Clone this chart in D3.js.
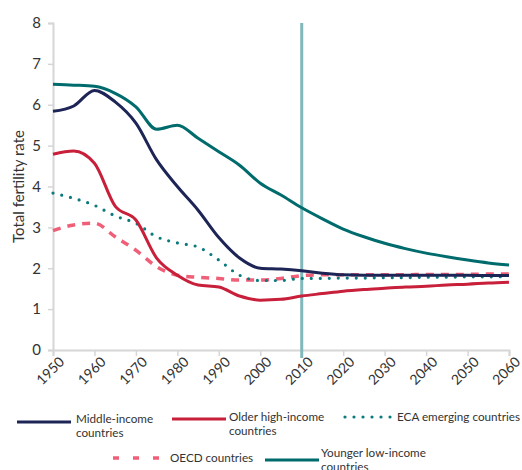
<!DOCTYPE html>
<html>
<head>
<meta charset="utf-8">
<script src="https://cdn.jsdelivr.net/npm/d3@7"></script>
<style>
body { margin: 0; background: #fff; }
text { font-family: Lato, "Open Sans", sans-serif; fill: #333; }
</style>
</head>
<body>
<div id="chart"></div>
<script>
var years = [1950,1955,1960,1965,1970,1975,1980,1985,1990,1995,2000,2005,2010,2015,2020,2025,2030,2035,2040,2045,2050,2055,2060];

var middleIncome = [5.84,5.97,6.35,6.07,5.55,4.65,4.0,3.42,2.75,2.25,2.0,1.98,1.94,1.88,1.84,1.83,1.83,1.83,1.83,1.83,1.83,1.82,1.82];
var olderHigh = [4.79,4.87,4.57,3.52,3.18,2.25,1.83,1.59,1.54,1.32,1.22,1.24,1.32,1.38,1.44,1.48,1.51,1.54,1.56,1.59,1.61,1.64,1.66];
var ecaEmerging = [3.84,3.71,3.54,3.28,3.10,2.77,2.62,2.52,2.20,1.83,1.70,1.70,1.75,1.75,1.76,1.76,1.77,1.77,1.78,1.78,1.79,1.79,1.80];
var oecd = [2.92,3.06,3.10,2.77,2.44,2.04,1.83,1.78,1.75,1.71,1.71,1.75,1.82,1.84,1.84,1.84,1.84,1.84,1.85,1.85,1.85,1.86,1.86];
var youngerLow = [6.50,6.48,6.45,6.28,5.95,5.40,5.50,5.18,4.85,4.52,4.08,3.79,3.48,3.21,2.96,2.77,2.61,2.48,2.37,2.28,2.20,2.13,2.08];

var yTicks = [0,1,2,3,4,5,6,7,8];
var xTicks = [1950,1960,1970,1980,1990,2000,2010,2020,2030,2040,2050,2060];
var markerYear = 2010;

var width = 522, height = 470;
var svg = d3.select("#chart").append("svg")
	.attr("width", width)
	.attr("height", height);

var x = d3.scaleLinear().domain([1950, 2060]).range([53, 509]);
var y = d3.scaleLinear().domain([0, 8]).range([350, 23]);

// axes
var yAxis = svg.append("g")
	.attr("transform", "translate(53,0)")
	.call(d3.axisLeft(y).tickValues(yTicks).tickSize(5).tickPadding(7));
yAxis.select(".domain").attr("stroke", "#d6d6d6").attr("stroke-width", 2);
yAxis.selectAll(".tick line").attr("stroke", "#d6d6d6").attr("stroke-width", 1.5);
yAxis.selectAll(".tick text").style("font-size", "15px").attr("fill", "#333");

var xAxis = svg.append("g")
	.attr("transform", "translate(0,350)")
	.call(d3.axisBottom(x).tickValues(xTicks).tickFormat(d3.format("d")).tickSize(6));
xAxis.select(".domain").attr("stroke", "#d6d6d6").attr("stroke-width", 2);
xAxis.selectAll(".tick line").attr("stroke", "#d6d6d6").attr("stroke-width", 1.5);
xAxis.selectAll(".tick text")
	.style("font-size", "14px")
	.attr("fill", "#333")
	.attr("text-anchor", "end")
	.attr("dy", "0.35em")
	.attr("transform", "translate(2,3) rotate(-45)");

svg.append("text")
	.attr("transform", "translate(24," + y(4) + ") rotate(-90)")
	.attr("text-anchor", "middle")
	.style("font-size", "15px")
	.text("Total fertility rate");

// 2010 marker
svg.append("line")
	.attr("x1", x(markerYear)).attr("x2", x(markerYear))
	.attr("y1", y(8)).attr("y2", 358)
	.attr("stroke", "#80b8bc")
	.attr("stroke-width", 3);

var series = [
	{ name: ["Middle-income", "countries"], values: middleIncome, color: "#1d2456", dash: null, cap: "butt", w: 3 },
	{ name: ["Older high-income", "countries"], values: olderHigh, color: "#c81f3a", dash: null, cap: "butt", w: 3 },
	{ name: ["ECA emerging countries"], values: ecaEmerging, color: "#0a7a7d", dash: "0 9", cap: "round", w: 3.2 },
	{ name: ["OECD countries"], values: oecd, color: "#ef5f78", dash: "8 7", cap: "butt", w: 3.5 },
	{ name: ["Younger low-income", "countries"], values: youngerLow, color: "#006b6d", dash: null, cap: "butt", w: 3 }
];

var line = d3.line()
	.x(function(d) { return x(d[0]); })
	.y(function(d) { return y(d[1]); })
	.curve(d3.curveMonotoneX);

// dashed/dotted first so the solid lines sit on top
var order = [3, 2, 1, 0, 4];
order.forEach(function(i) {
	var s = series[i];
	svg.append("path")
		.datum(years.map(function(yr, j) { return [yr, s.values[j]]; }))
		.attr("fill", "none")
		.attr("stroke", s.color)
		.attr("stroke-width", s.w)
		.attr("stroke-linecap", s.cap)
		.attr("stroke-dasharray", s.dash)
		.attr("d", line);
});

// legend
var legendPos = [
	{ x: 17, y: 422, len: 54, tx: 59, ty: 1 },
	{ x: 172, y: 419, len: 54, tx: 57, ty: 2 },
	{ x: 345, y: 417, len: 50, tx: 52, ty: 4 },
	{ x: 113, y: 458, len: 47, tx: 57, ty: 4 },
	{ x: 265, y: 460, len: 54, tx: 56, ty: -3 }
];
series.forEach(function(s, i) {
	var p = legendPos[i];
	var g = svg.append("g").attr("transform", "translate(" + p.x + "," + p.y + ")");
	g.append("line")
		.attr("x1", 0).attr("x2", p.len)
		.attr("stroke", s.color)
		.attr("stroke-width", s.w)
		.attr("stroke-linecap", s.cap)
		.attr("stroke-dasharray", s.dash === "8 7" ? "6 14" : s.dash);
	var t = g.append("text")
		.attr("x", p.tx)
		.attr("y", p.ty)
		.style("font-size", "11.7px");
	s.name.forEach(function(n, k) {
		t.append("tspan").attr("x", p.tx).attr("dy", k === 0 ? 0 : "1.2em").text(n);
	});
});
</script>
</body>
</html>
